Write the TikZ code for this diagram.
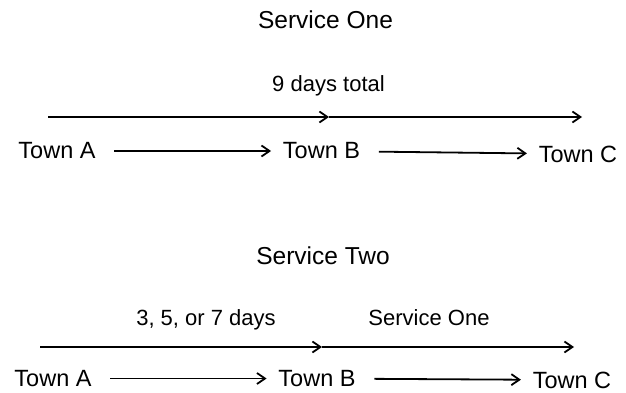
\documentclass[tikz,border=0pt]{standalone}
\usepackage{fontspec}
\setmainfont{Liberation Sans}
\usetikzlibrary{arrows.meta}

\begin{document}
\begin{tikzpicture}[
            x = 1pt, y = -1pt, % one unit per pixel, downwards
            > = {Straight Barb[length=8pt, width=11pt]}, % arrow head style
            line width = 1.8pt
            ,
            every node/.style={inner sep=3pt} % line style
        ]

        \tikzstyle{town}=[font=\fontsize{23.5}{28}\selectfont]
        \tikzstyle{heading}=[anchor=base, font=\fontsize{24.5}{29}\selectfont]
        \tikzstyle{note}=[anchor=base, font=\fontsize{22}{26}\selectfont]
        \tikzstyle{link}=[->, line width = 1.8pt, shorten < = 15pt, shorten > = 8pt]

        \useasboundingbox (0,0) rectangle (626,393);

        % Service One
        \node[heading] (S1) at (325.5,29) {Service One};
        \node[note] (D1) at (328.5,92) {9 days total};
        \coordinate (s1) at (48,117);
        \coordinate (m1) at (329,117);
        \coordinate (e1) at (582,117);

        \node[town] (A1) at (57,151) {Town A};
        \node[town] (B1) [right of=A1, node distance=264.5pt] {Town B};
        \node[town] (C1) [right of=B1, node distance=256.5pt, yshift=-3pt] {Town C};

        % Service Two
        \node[heading] (S2) at (323,264) {Service Two};
        \node[note] (D2) at (206,325) {3, 5, or 7 days};
        \node[note] (R2) at (429,325) {Service One};
        \coordinate (s2) at (40,347);
        \coordinate (m2) at (322,347);
        \coordinate (e2) at (574,347);

        \node[town] (A2) at (53,378.5) {Town A};
        \node[town] (B2) [right of=A2, node distance=264pt] {Town B};
        \node[town] (C2) [right of=B2, node distance=255pt, yshift=-1.5pt] {Town C};

        \draw[->] (s1) -- (m1);
        \draw[->] (m1) -- (e1);
        \draw[->] (s2) -- (m2);
        \draw[->] (m2) -- (e2);

        \path[link] (A1) edge (B1);
        \path[link] (B1) edge (C1);
        \path[link] (A2) edge (B2);
        \path[link] (B2) edge (C2);

    \end{tikzpicture}
\end{document}
